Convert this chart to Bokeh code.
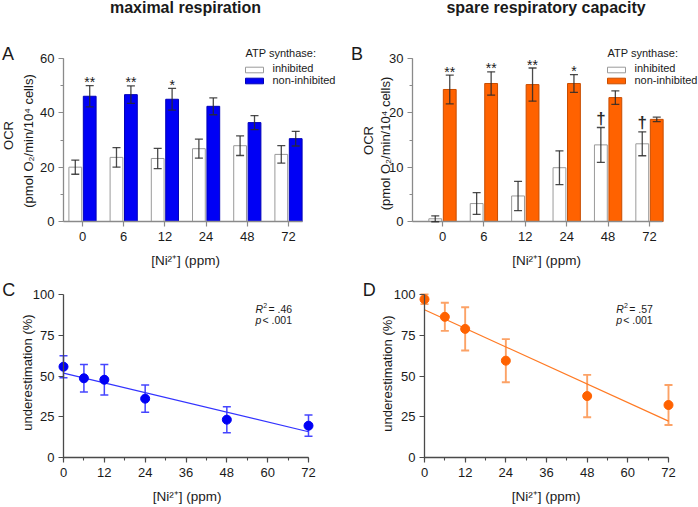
import numpy as np
from bokeh.plotting import figure
from bokeh.layouts import row, column
from bokeh.models import (Range1d, FixedTicker, SingleIntervalTicker, Label,
                          BoxAnnotation, Whisker, TeeHead, ColumnDataSource)
from bokeh.core.properties import value
from bokeh.embed import file_html
from bokeh.resources import INLINE

# ---- data -------------------------------------------------------------
ni_ppm = [0, 6, 12, 24, 48, 72]
ni_labels = ["0", "6", "12", "24", "48", "72"]

# OCR, maximal respiration (pmol O2/min/10^4 cells)
max_inh = [20.0, 23.6, 23.2, 26.8, 27.9, 24.7]
max_inh_err = [2.6, 3.6, 3.7, 3.5, 3.6, 3.2]
max_non = [46.1, 46.7, 45.0, 42.4, 36.4, 30.5]
max_non_err = [3.9, 3.2, 4.0, 3.1, 2.6, 2.7]
max_sig_non = ["**", "**", "*", "", "", ""]
max_sig_inh = ["", "", "", "", "", ""]

# OCR, spare respiratory capacity
spare_inh = [0.5, 3.3, 4.7, 9.9, 14.1, 14.3]
spare_inh_err = [0.55, 2.0, 2.7, 3.1, 3.2, 2.2]
spare_non = [24.3, 25.4, 25.2, 25.4, 22.8, 18.8]
spare_non_err = [2.65, 2.15, 3.05, 1.65, 1.25, 0.4]
spare_sig_non = ["**", "**", "**", "*", "", ""]
spare_sig_inh = ["", "", "", "", "\u2020", "\u2020"]

# underestimation (%) with linear fit (values at 0 and 72 ppm)
under_max = [55.7, 48.6, 47.7, 36.1, 23.2, 19.5]
under_max_err = [6.7, 8.4, 9.3, 8.4, 8.0, 6.5]
under_max_fit = [51.8, 15.8]
under_spare = [97.1, 86.3, 78.9, 59.4, 37.7, 32.2]
under_spare_err = [3.0, 8.6, 13.3, 13.2, 13.0, 12.3]
under_spare_fit = [90.6, 22.3]
fit_x = [ni_ppm[0], ni_ppm[-1]]
r2_max, r2_spare, p_text = "= .46", "= .57", "< .001"

# ---- style ------------------------------------------------------------
FONT = "Liberation Sans"
INK = "#1a1a1a"
BLUE = "#0000f5"
BLUE_EDGE = "#0000b8"
ORANGE = "#ff6200"
ORANGE_EDGE = "#c84d00"
W_EDGE = "#9a9a9a"
TOP_H, BOT_H, PW = 275, 232, 349


def mapper(d0, p0, d1, p1):
    """pixel -> data for a linear axis anchored at two pixel positions"""
    s = (p1 - p0) / (d1 - d0)
    return lambda px: d0 + (px - p0) / s


def base_fig(H, xm, ym):
    # the frame fills the whole canvas; axes are pinned inside it
    p = figure(width=PW, height=H, output_backend="svg", toolbar_location=None,
               x_range=Range1d(xm(0), xm(PW)), y_range=Range1d(ym(H), ym(0)),
               min_border=0)
    p.title.visible = False
    p.outline_line_color = None
    p.xgrid.visible = False
    p.ygrid.visible = False
    return p


def label(p, H, cx, cy, text, size, align="left", style="normal", angle=0.0, color=INK):
    # (cx, cy): pixel position from the top-left corner of the panel, text centred vertically
    p.add_layout(Label(x=cx, y=H - cy, x_units="screen", y_units="screen", text=text,
                       text_font=FONT, text_font_size=f"{size}px",
                       text_align=align, text_baseline="middle",
                       text_font_style=style, angle=angle, text_color=color))


def style_axes(p, axis_color):
    for ax in (p.xaxis[0], p.yaxis[0]):
        ax.axis_line_color = axis_color
        ax.axis_line_width = 1.3
        ax.major_tick_line_color = axis_color
        ax.minor_tick_line_color = axis_color
        ax.major_tick_line_width = 1.2
        ax.minor_tick_line_width = 1.1
        ax.major_tick_in = 0
        ax.major_tick_out = 5
        ax.minor_tick_in = 0
        ax.minor_tick_out = 3
        ax.major_label_text_font = FONT
        ax.major_label_text_font_size = "13px"
        ax.major_label_text_color = INK
    p.xaxis.major_label_standoff = 5
    p.yaxis.major_label_standoff = 4


def swatch(p, H, x0, x1, cy0, cy1, fill, edge):
    p.add_layout(BoxAnnotation(left=x0, right=x1, top=H - cy0, bottom=H - cy1,
                               left_units="screen", right_units="screen",
                               top_units="screen", bottom_units="screen",
                               fill_color=fill, fill_alpha=1.0,
                               line_color=edge, line_alpha=1.0, line_width=1))


def bar_panel(inh, inh_err, non, non_err, sig_non, sig_inh, fill, edge, ymax, yint,
              g0_px, step_px, x_right_px, title, title_x, letter, xlab_x,
              ocr_pos, unit_pos, leg_x):
    H = TOP_H
    n = len(ni_ppm)
    xm = mapper(0, g0_px, n - 1, g0_px + (n - 1) * step_px)
    ym = mapper(0, 221, ymax, 58)
    p = base_fig(H, xm, ym)
    style_axes(p, "#8a8a8a")

    x_axis_at = xm(63)
    p.xaxis.fixed_location = 0
    p.xaxis.bounds = (x_axis_at, xm(x_right_px))
    p.xaxis.ticker = FixedTicker(ticks=list(range(n)))
    p.xaxis.major_label_overrides = {i: t for i, t in enumerate(ni_labels)}
    p.xaxis.minor_tick_line_color = None
    p.yaxis.fixed_location = x_axis_at
    p.yaxis.bounds = (0, ymax)
    p.yaxis.ticker = SingleIntervalTicker(interval=yint, num_minor_ticks=2)

    pos = np.arange(n)
    off, bw = 0.175, 0.31
    inh_a, inh_e = np.array(inh), np.array(inh_err)
    non_a, non_e = np.array(non), np.array(non_err)
    src = ColumnDataSource(dict(
        x_inh=pos - off, x_non=pos + off, inh=inh_a, non=non_a,
        inh_lo=inh_a - inh_e, inh_hi=inh_a + inh_e,
        non_lo=non_a - non_e, non_hi=non_a + non_e,
        sig_non=sig_non, sig_inh=sig_inh))

    p.vbar(x="x_inh", top="inh", bottom=0, width=bw, source=src,
           fill_color="white", line_color=W_EDGE, line_width=1)
    p.vbar(x="x_non", top="non", bottom=0, width=bw, source=src,
           fill_color=fill, line_color=edge, line_width=1)

    for base, lo, hi in (("x_inh", "inh_lo", "inh_hi"), ("x_non", "non_lo", "non_hi")):
        head = dict(size=8, line_color="#2a2a2a", line_alpha=0.85, line_width=1.3)
        p.add_layout(Whisker(source=src, base=base, lower=lo, upper=hi,
                             line_color="#2a2a2a", line_alpha=0.85, line_width=1.3,
                             upper_head=TeeHead(**head), lower_head=TeeHead(**head),
                             level="annotation"))

    # significance marks just above the upper error caps
    p.text(x="x_non", y="non_hi", text="sig_non", source=src, y_offset=-3.5,
           text_font=value(FONT), text_font_size=value("14px"),
           text_align="center", text_baseline="middle", text_color=INK)
    p.text(x="x_inh", y="inh_hi", text="sig_inh", source=src, y_offset=-9,
           text_font=value(FONT), text_font_size=value("17px"), text_font_style="bold",
           text_align="center", text_baseline="middle", text_color="#2a2a2a")

    # titles, panel letter and axis titles
    label(p, H, title_x, 6.5, title, 16, align="center", style="bold")
    label(p, H, 1.5, 53.5, letter, 18)
    label(p, H, xlab_x, 260, "[Ni\u00b2\u207a] (ppm)", 13.5, align="center")
    label(p, H, ocr_pos[0], ocr_pos[1], "OCR", 13, align="center", angle=np.pi / 2)
    label(p, H, unit_pos[0], unit_pos[1], "(pmol O\u2082/min/10\u2074 cells)", 13,
          align="center", angle=np.pi / 2)

    # legend
    label(p, H, leg_x, 52, "ATP synthase:", 11)
    swatch(p, H, leg_x, leg_x + 18, 66.7, 72.3, "white", W_EDGE)
    swatch(p, H, leg_x, leg_x + 18, 77.7, 83.3, fill, edge)
    label(p, H, leg_x + 27, 67.5, "inhibited", 11)
    label(p, H, leg_x + 27, 79.5, "non-inhibited", 11)
    return p


def fit_panel(vals, errs, fit, r2, dot, line_col, err_col, err_w, x0_px, x72_px,
              letter, letter_x, xlab_x, ylab_pos, note_x):
    H = BOT_H
    xm = mapper(0, x0_px, 72, x72_px)
    ym = mapper(0, 182, 100, 19)
    p = base_fig(H, xm, ym)
    style_axes(p, "#4a4a4a")
    p.xaxis.fixed_location = 0
    p.xaxis.bounds = (0, 72)
    p.yaxis.fixed_location = 0
    p.yaxis.bounds = (0, 100)
    p.xaxis.ticker = SingleIntervalTicker(interval=12, num_minor_ticks=2)
    p.yaxis.ticker = SingleIntervalTicker(interval=25, num_minor_ticks=0)
    p.yaxis.minor_tick_line_color = None

    lo = [v - e for v, e in zip(vals, errs)]
    hi = [v + e for v, e in zip(vals, errs)]
    src = ColumnDataSource(dict(x=ni_ppm, y=vals, lo=lo, hi=hi))
    head = dict(size=8, line_color=err_col, line_width=err_w)
    p.add_layout(Whisker(source=src, base="x", lower="lo", upper="hi",
                         line_color=err_col, line_width=err_w,
                         upper_head=TeeHead(**head), lower_head=TeeHead(**head),
                         level="underlay"))
    p.line(x=fit_x, y=fit, line_color=line_col, line_width=1.2)
    p.scatter(x="x", y="y", source=src, size=9, fill_color=dot, line_color=dot)

    label(p, H, note_x, 33, "R", 10.5, style="italic")
    label(p, H, note_x + 7.8, 30, "2", 7)
    label(p, H, note_x + 13, 33, r2, 10.5)
    label(p, H, note_x, 44, "p", 10.5, style="italic")
    label(p, H, note_x + 7, 44, p_text, 10.5)

    label(p, H, letter_x, 14, letter, 18)
    label(p, H, xlab_x, 220.5, "[Ni\u00b2\u207a] (ppm)", 13.5, align="center")
    label(p, H, ylab_pos[0], ylab_pos[1], "underestimation (%)", 13, align="center",
          angle=np.pi / 2)
    return p


pA = bar_panel(max_inh, max_inh_err, max_non, max_non_err, max_sig_non, max_sig_inh,
               BLUE, BLUE_EDGE, 60, 20, 82, 41.2, 302, "maximal respiration", 185, "A",
               185, (7.5, 135), (28, 140.5), 245)
pB = bar_panel(spare_inh, spare_inh_err, spare_non, spare_non_err, spare_sig_non,
               spare_sig_inh, ORANGE, ORANGE_EDGE, 30, 10, 93, 41.4, 313,
               "spare respiratory capacity", 196.5, "B", 197, (19, 140), (35.5, 143), 258)
pC = fit_panel(under_max, under_max_err, under_max_fit, r2_max, BLUE, "#3333ff",
               "#4545ff", 1.5, 63, 308, "C", 1.7, 186.7, (27, 97), 255)
pD = fit_panel(under_spare, under_spare_err, under_spare_fit, r2_spare, ORANGE, "#ff7a24",
               "#fca266", 1.9, 75, 319, "D", 13.3, 196.7, (38, 98), 266.7)

layout = column(row(pA, pB), row(pC, pD))
open("out.html", "w").write(file_html(layout, INLINE))
